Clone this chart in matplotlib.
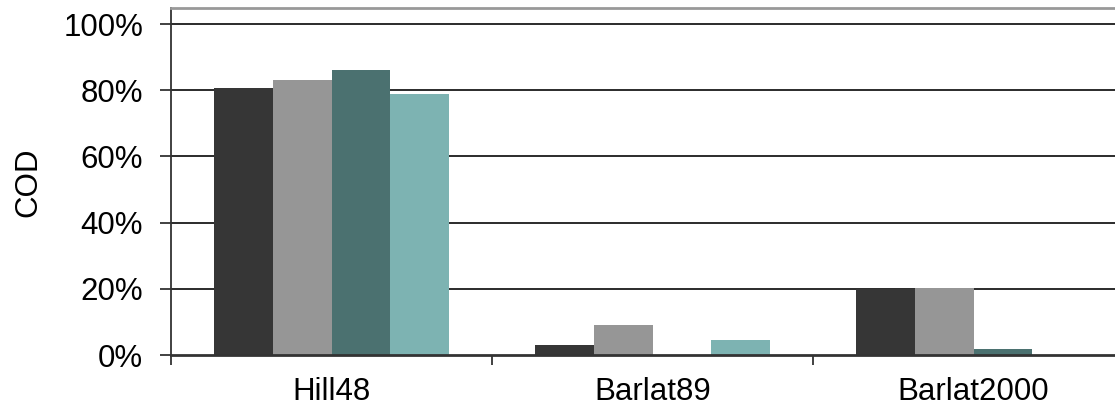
import matplotlib
matplotlib.use("Agg")
import matplotlib.pyplot as plt
from matplotlib.ticker import FuncFormatter, FixedLocator

plt.rcParams['font.family'] = ['Liberation Sans', 'DejaVu Sans']

categories = ['Hill48', 'Barlat89', 'Barlat2000']
series1 = [0.807, 0.030, 0.198]
series2 = [0.831, 0.091, 0.202]
series3 = [0.861, 0.0, 0.018]
series4 = [0.789, 0.045, 0.0]
yticks = [0, 0.2, 0.4, 0.6, 0.8, 1.0]

colors = ['#363636', '#969696', '#4b7170', '#7db3b2']
W, H = 1115, 419
fig = plt.figure(figsize=(W / 100, H / 100), dpi=100)
ax = fig.add_axes([171 / W, (H - 355) / H, 963 / W, 347 / H])

bw = 0.183
for j, s in enumerate([series1, series2, series3, series4]):
    xs = [i + 0.5 + (j - 1.5) * bw for i in range(len(categories))]
    ax.bar(xs, s, width=bw, color=colors[j], zorder=3, linewidth=0)

ax.set_xlim(0, 3)
ax.set_ylim(0, 347 / 331)
ax.set_yticks(yticks)
ax.yaxis.set_major_formatter(FuncFormatter(lambda v, p: f"{v*100:.0f}%"))
for y in yticks[1:]:
    ax.axhline(y, color='#1a1a1a', lw=1.3, zorder=1)

ax.xaxis.set_major_locator(FixedLocator([0, 1, 2, 3]))
ax.xaxis.set_minor_locator(FixedLocator([0.5, 1.5, 2.5]))
ax.set_xticklabels([])
ax.set_xticklabels(categories, minor=True)
ax.tick_params(axis='x', which='major', length=7.5, width=1.3, color='#333333')
ax.tick_params(axis='x', which='minor', length=0, pad=16, labelsize=22.5)
ax.tick_params(axis='y', length=8, width=1.3, color='#333333', pad=12, labelsize=22.5)

ax.spines['right'].set_visible(False)
ax.spines['top'].set_color('#999999')
ax.spines['top'].set_linewidth(2)
ax.spines['left'].set_color('#333333')
ax.spines['left'].set_linewidth(1.3)
ax.spines['bottom'].set_color('#333333')
ax.spines['bottom'].set_linewidth(2)
ax.spines['bottom'].set_zorder(4)

fig.text(28 / W, 1 - 182 / H, 'COD', rotation=90, fontsize=22.5,
         ha='center', va='center')

fig.savefig('out.png', dpi=100)
